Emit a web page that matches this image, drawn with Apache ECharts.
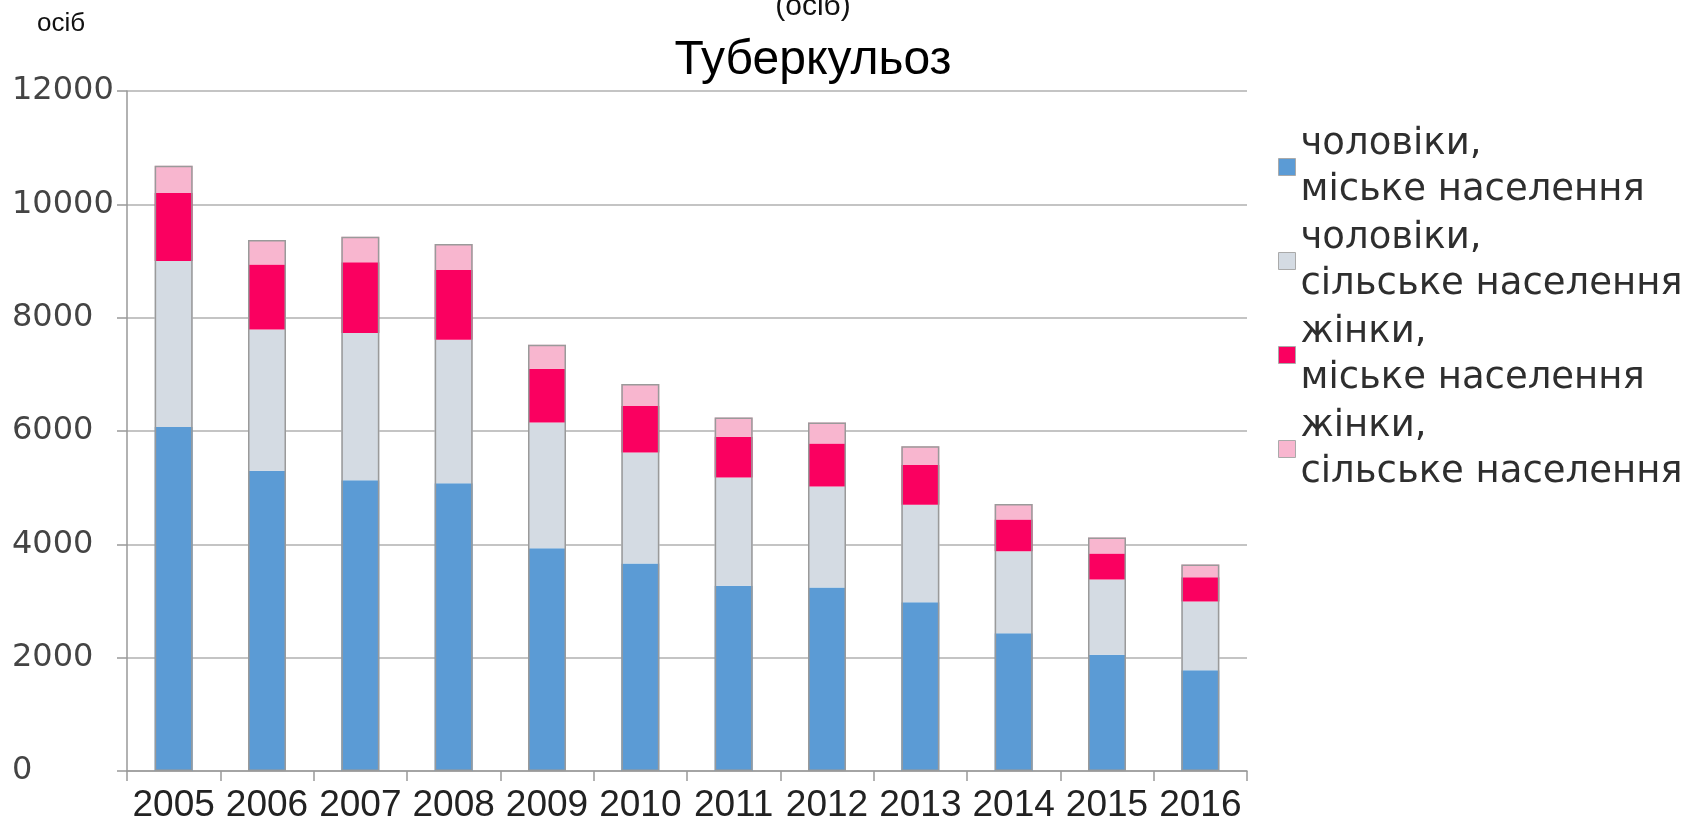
<!DOCTYPE html>
<html>
<head>
<meta charset="utf-8">
<script src="https://cdn.jsdelivr.net/npm/echarts@6/dist/echarts.min.js"></script>
<style>
  html, body { margin: 0; padding: 0; background: #fff; }
  #myChart { width: 1703px; height: 824px; }
</style>
</head>
<body>
<div id="myChart"></div>
<script>
// роки
var years = ["2005", "2006", "2007", "2008", "2009", "2010", "2011", "2012", "2013", "2014", "2015", "2016"];
// чоловіки, міське населення
var menUrban = [6070, 5300, 5130, 5080, 3930, 3660, 3270, 3240, 2980, 2430, 2050, 1780];
// чоловіки, сільське населення
var menRural = [2930, 2490, 2600, 2530, 2220, 1960, 1910, 1780, 1720, 1450, 1330, 1210];
// жінки, міське населення
var womenUrban = [1200, 1150, 1250, 1230, 950, 820, 720, 760, 700, 560, 460, 430];
// жінки, сільське населення
var womenRural = [480, 430, 450, 460, 420, 390, 340, 370, 330, 270, 280, 225];

var seriesNames = [
  "чоловіки,\nміське населення",
  "чоловіки,\nсільське населення",
  "жінки,\nміське населення",
  "жінки,\nсільське населення"
];
var colors = ["#5b9bd5", "#d4dbe3", "#fa0060", "#f8b6cf"];

// загальна висота стовпця — для рамки навколо
var totals = years.map(function (y, i) {
  return menUrban[i] + menRural[i] + womenUrban[i] + womenRural[i];
});

var myChart = echarts.init(document.getElementById("myChart"));

function stackSeries(name, data, color) {
  return {
    name: name,
    type: "bar",
    stack: "total",
    barWidth: 38,
    data: data,
    itemStyle: { color: color },
    emphasis: { disabled: true }
  };
}

var option = {
  animation: false,
  color: colors,
  graphic: [
    {
      type: "text", left: 37, top: 11,
      style: { text: "осіб", font: "26px 'Liberation Sans'", fill: "#111" }
    },
    {
      type: "text", x: 813, y: 7,
      style: { text: "(осіб)", font: "30px 'Liberation Sans'", fill: "#111", align: "center", verticalAlign: "middle" }
    },
    {
      type: "text", x: 813, y: 61,
      style: { text: "Туберкульоз", font: "48px 'Liberation Sans'", fill: "#000", align: "center", verticalAlign: "middle" }
    }
  ],
  legend: {
    data: seriesNames,
    orient: "vertical",
    left: 1273,
    top: 110,
    itemWidth: 17,
    itemHeight: 17,
    itemGap: -10,
    icon: "rect",
    itemStyle: { borderColor: "#aaa", borderWidth: 1 },
    textStyle: {
      fontFamily: "DejaVu Sans",
      fontSize: 37,
      lineHeight: 46,
      color: "#2e2e2e",
      padding: [12, 0, 0, 0]
    },
    selectedMode: false
  },
  grid: {
    left: 127,
    right: 456,
    top: 91,
    bottom: 53
  },
  xAxis: {
    type: "category",
    data: years,
    axisLine: { lineStyle: { color: "#999", width: 1.5 } },
    axisTick: { show: true, length: 10, lineStyle: { color: "#999", width: 1.5 } },
    axisLabel: {
      fontFamily: "Liberation Sans",
      fontSize: 37,
      color: "#222",
      margin: 16,
      interval: 0
    }
  },
  yAxis: {
    type: "value",
    min: 0,
    max: 12000,
    interval: 2000,
    axisLine: { show: true, lineStyle: { color: "#999", width: 1.5 } },
    axisTick: { show: true, length: 10, lineStyle: { color: "#999", width: 1.5 } },
    splitLine: { lineStyle: { color: "#b0b0b0", width: 1.5 } },
    axisLabel: {
      fontFamily: "DejaVu Sans",
      fontSize: 32,
      color: "#444",
      align: "left",
      margin: 115,
      formatter: function (v) { return String(v); }
    }
  },
  series: [
    stackSeries(seriesNames[0], menUrban, colors[0]),
    stackSeries(seriesNames[1], menRural, colors[1]),
    stackSeries(seriesNames[2], womenUrban, colors[2]),
    stackSeries(seriesNames[3], womenRural, colors[3]),
    {
      // рамка
      name: "outline",
      type: "bar",
      barWidth: 38,
      barGap: "-100%",
      data: totals,
      silent: true,
      z: 3,
      itemStyle: { color: "transparent", borderColor: "#9a9a9a", borderWidth: 1.5 }
    }
  ]
};

myChart.setOption(option);
</script>
</body>
</html>
